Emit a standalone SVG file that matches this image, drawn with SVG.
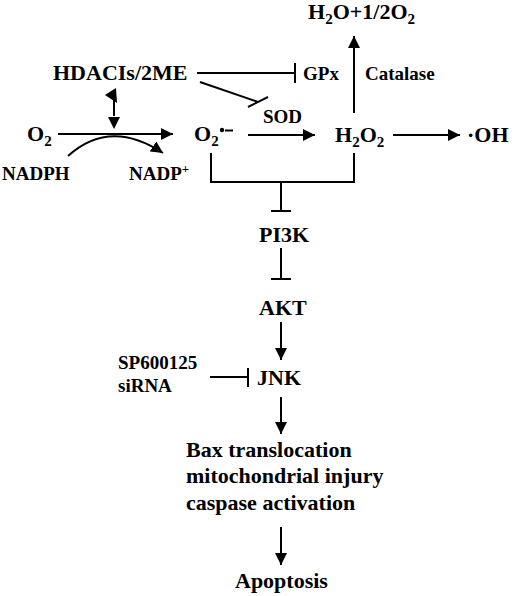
<svg xmlns="http://www.w3.org/2000/svg" width="520" height="596" viewBox="0 0 520 596">
<defs>
<style>
text{font-family:"Liberation Serif","Times New Roman",serif;font-weight:bold;fill:#000}
.m{font-size:22px}
.s{font-size:19px}
.sub{font-size:15px}
.ln{stroke:#000;stroke-width:2;fill:none}
</style>
<marker id="ah" viewBox="0 0 12 12" refX="12" refY="6" markerWidth="12" markerHeight="12" markerUnits="userSpaceOnUse" orient="auto">
<path d="M0,0 L12,6 L0,12 Z" fill="#000"/>
</marker>
</defs>
<rect width="520" height="596" fill="#fff"/>
<g id="connectors">
<!-- HDACIs -| GPx -->
<path class="ln" d="M197,73 H295 M295,63 V83"/>
<!-- HDACIs -| SOD -->
<path class="ln" d="M200,82 L258,102 M248,107 L268,97"/>
<!-- HDACIs <-> NADPH oxidase -->
<path class="ln" d="M114,97 V116"/>
<polygon points="105,95 116,88 117,103" fill="#000"/>
<polygon points="108,117 120,117 114,129" fill="#000"/>
<!-- O2 -> O2.- -->
<path class="ln" d="M58,134 H173" marker-end="url(#ah)"/>
<!-- NADPH -> NADP+ -->
<path class="ln" d="M68,156 Q110,118 163,153" marker-end="url(#ah)"/>
<!-- O2.- -> H2O2 -->
<path class="ln" d="M248,135 H315" marker-end="url(#ah)"/>
<!-- H2O2 -> OH -->
<path class="ln" d="M393,135 H460" marker-end="url(#ah)"/>
<!-- H2O2 -> H2O + 1/2 O2 -->
<path class="ln" d="M354,113 V36" marker-end="url(#ah)"/>
<!-- bracket -->
<path class="ln" d="M211,153 V182 H354 V153"/>
<!-- bracket -| PI3K -->
<path class="ln" d="M281,182 V211 M271,211 H291"/>
<!-- PI3K -| AKT -->
<path class="ln" d="M281,248 V279 M271,279 H291"/>
<!-- AKT -> JNK -->
<path class="ln" d="M281,322 V360" marker-end="url(#ah)"/>
<!-- SP600125 -| JNK -->
<path class="ln" d="M210,377 H248 M248,368 V387"/>
<!-- JNK -> Bax -->
<path class="ln" d="M281,397 V434" marker-end="url(#ah)"/>
<!-- Bax -> Apoptosis -->
<path class="ln" d="M281,527 V565" marker-end="url(#ah)"/>
</g>
<g id="n-hdaci"><text class="m" x="53" y="80">HDACIs/2ME</text></g>
<g id="n-gpx"><text class="s" x="303" y="80">GPx</text></g>
<g id="n-catalase"><text class="s" x="365" y="80">Catalase</text></g>
<g id="n-h2o"><text class="m" x="308" y="19">H<tspan class="sub" dy="5">2</tspan><tspan dy="-5">O+1/2O</tspan><tspan class="sub" dy="5">2</tspan></text></g>
<g id="n-sod"><text class="s" x="263" y="123">SOD</text></g>
<g id="n-o2"><text class="m" x="27" y="141">O<tspan class="sub" dy="5">2</tspan></text></g>
<g id="n-superoxide"><text class="m" x="194" y="141">O<tspan class="sub" dy="5">2</tspan></text>
<circle cx="222" cy="130" r="2.2" fill="#000"/><path class="ln" d="M225,130.5 H233" stroke-width="1.6"/></g>
<g id="n-h2o2"><text class="m" x="335" y="142">H<tspan class="sub" dy="5">2</tspan><tspan dy="-5">O</tspan><tspan class="sub" dy="5">2</tspan></text></g>
<g id="n-oh"><text class="m" x="467" y="142">·OH</text></g>
<g id="n-nadph"><text class="s" x="2" y="180">NADPH</text></g>
<g id="n-nadp"><text class="s" x="129" y="180">NADP<tspan font-size="13" dy="-7">+</tspan></text></g>
<g id="n-pi3k"><text class="m" x="259" y="242">PI3K</text></g>
<g id="n-akt"><text class="m" x="259" y="315">AKT</text></g>
<g id="n-jnk"><text class="m" x="257" y="385">JNK</text></g>
<g id="n-sp"><text class="s" x="118" y="369">SP600125</text><text class="s" x="118" y="392">siRNA</text></g>
<g id="n-bax"><text class="m" x="186" y="457">Bax translocation</text><text class="m" x="186" y="483">mitochondrial injury</text><text class="m" x="186" y="510">caspase activation</text></g>
<g id="n-apoptosis"><text class="m" x="235" y="588">Apoptosis</text></g>
</svg>
